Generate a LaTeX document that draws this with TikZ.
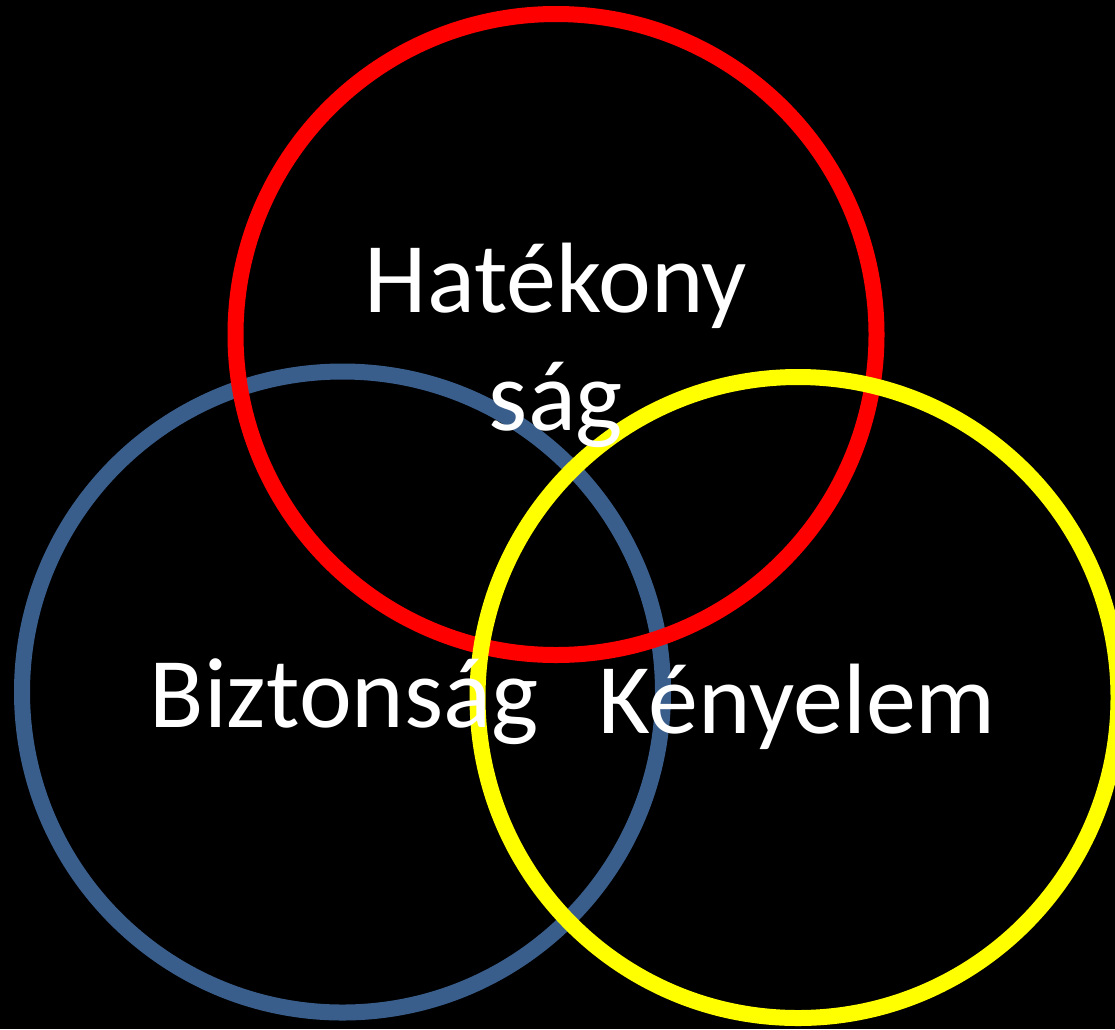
\documentclass[tikz,border=0pt]{standalone}
\usepackage{fontspec}
\setmainfont{Carlito}
\definecolor{ringblue}{RGB}{58,94,140}
\definecolor{ringred}{RGB}{255,0,0}
\definecolor{ringyellow}{RGB}{255,255,0}
\tikzset{
  ring/.style={circle, draw=#1, line width=16pt, minimum size=641pt, inner sep=0pt},
  lbl/.style={text=white, font=\fontsize{100}{114}\selectfont, anchor=base, inner sep=0pt}
}
\begin{document}
\begin{tikzpicture}[x=1pt,y=-1pt]
\fill[black] (0,0) rectangle (1115,1029);
\useasboundingbox (0,0) rectangle (1115,1029);
\node[ring=ringblue] (biz) at (342.5,692) {};
\node[ring=ringred] (hat) at (556,334.5) {};
\node[ring=ringyellow] (ken) at (798,697.5) {};
\node[lbl] (t1) at (556,312) {Hatékony};
\node[lbl] (t2) at (556,430) {ság};
\node[lbl] (t3) at (344,727) {Biztonság};
\node[lbl] (t4) at (797,733) {Kényelem};
\end{tikzpicture}
\end{document}
